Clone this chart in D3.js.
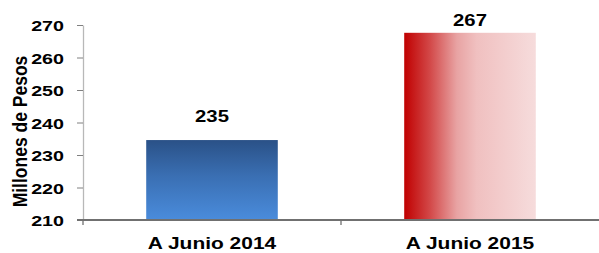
<!DOCTYPE html>
<html lang='es'>
  <head>
    <meta charset='utf-8'>
    <script src='https://cdnjs.cloudflare.com/ajax/libs/d3/7.8.5/d3.min.js'></script>
    <style>
      body { margin: 0; background: #fff; }
      text { font-family: 'Liberation Sans', Arial, sans-serif; font-weight: bold; fill: #000; }
    </style>
  </head>
  <body>
    <script>
      // data
      var categories = ['A Junio 2014', 'A Junio 2015'];
      var values = [234.6, 267.6];
      var valueLabels = ['235', '267'];
      var yTicks = [210, 220, 230, 240, 250, 260, 270];

      var width = 599, height = 253;
      var plotLeft = 83, plotRight = 599, plotTop = 25, plotBottom = 220;
      var stretch = 1.27;   // the original text looks widened
      var labelGap = [18, 7];

      var svg = d3.select('body').append('svg')
                  .attr('width', width)
                  .attr('height', height);

      var defs = svg.append('defs');

      // blue bar: vertical gradient
      var gBlue = defs.append('linearGradient')
                      .attr('id', 'gBlue')
                      .attr('x1', 0).attr('y1', 0).attr('x2', 0).attr('y2', 1);
      gBlue.append('stop').attr('offset', '0%').attr('stop-color', '#2a5187');
      gBlue.append('stop').attr('offset', '45%').attr('stop-color', '#3a6fb3');
      gBlue.append('stop').attr('offset', '100%').attr('stop-color', '#4a8cdc');

      // red bar: horizontal gradient
      var gRed = defs.append('linearGradient')
                     .attr('id', 'gRed')
                     .attr('x1', 0).attr('y1', 0).attr('x2', 1).attr('y2', 0);
      gRed.append('stop').attr('offset', '0%').attr('stop-color', '#c00000');
      gRed.append('stop').attr('offset', '20%').attr('stop-color', '#d34a4a');
      gRed.append('stop').attr('offset', '40%').attr('stop-color', '#e8a3a3');
      gRed.append('stop').attr('offset', '55%').attr('stop-color', '#f0c0c0');
      gRed.append('stop').attr('offset', '100%').attr('stop-color', '#f6dcdc');

      var fills = ['url(#gBlue)', 'url(#gRed)'];

      // scales
      var y = d3.scaleLinear().domain([210, 270]).range([plotBottom, plotTop]);
      var x = d3.scaleBand().domain(categories).range([plotLeft, plotRight])
                .paddingInner(0.49).paddingOuter(0.245);

      // y axis
      var yAxis = svg.append('g')
                     .attr('transform', 'translate(' + plotLeft + ',0)')
                     .call(d3.axisLeft(y).tickValues(yTicks).tickSize(6).tickSizeOuter(0));
      yAxis.select('.domain').attr('stroke', '#b8b8b8').attr('stroke-width', 1.3);
      yAxis.selectAll('.tick line').attr('stroke', '#808080');
      yAxis.selectAll('.tick text')
           .attr('x', 0)
           .attr('dy', '0.36em')
           .attr('transform', 'translate(-19,0) scale(' + stretch + ',1)')
           .style('font-size', '15.5px');

      // bars
      svg.selectAll('rect.bar').data(values).enter().append('rect')
         .attr('class', 'bar')
         .attr('x', function(d, i){ return x(categories[i]); })
         .attr('y', function(d){ return y(d); })
         .attr('width', x.bandwidth())
         .attr('height', function(d){ return plotBottom - y(d); })
         .attr('fill', function(d, i){ return fills[i]; });

      // value labels
      svg.selectAll('text.val').data(values).enter().append('text')
         .attr('class', 'val')
         .attr('transform', function(d, i){
           var cx = x(categories[i]) + x.bandwidth() / 2;
           return 'translate(' + cx + ',' + (y(d) - labelGap[i]) + ') scale(' + stretch + ',1)';
         })
         .attr('text-anchor', 'middle')
         .style('font-size', '16px')
         .text(function(d, i){ return valueLabels[i]; });

      // x axis
      var xAxis = svg.append('g')
                     .attr('transform', 'translate(0,' + plotBottom + ')')
                     .call(d3.axisBottom(x).tickSize(0).tickSizeOuter(0));
      xAxis.select('.domain').attr('stroke', '#707070').attr('stroke-width', 2)
           .attr('d', 'M' + (plotLeft - 6) + ',0H' + plotRight);
      xAxis.selectAll('.tick text')
           .attr('y', 0)
           .attr('dy', 0)
           .attr('transform', 'translate(0,29) scale(' + stretch + ',1)')
           .style('font-size', '16.5px');

      // small tick marks at category boundaries
      var bounds = [plotLeft, (x(categories[0]) + x.bandwidth() + x(categories[1])) / 2];
      svg.selectAll('line.bt').data(bounds).enter().append('line')
         .attr('class', 'bt')
         .attr('x1', function(d){ return d; }).attr('x2', function(d){ return d; })
         .attr('y1', plotBottom).attr('y2', plotBottom + 5)
         .attr('stroke', '#707070').attr('stroke-width', 1.3);

      // y title
      svg.append('text')
         .attr('transform', 'translate(26.5,' + ((plotTop + plotBottom) / 2 + 9) + ') scale(1.15,1) rotate(-90)')
         .attr('text-anchor', 'middle')
         .style('font-size', '17.5px')
         .text('Millones de Pesos');
    </script>
  </body>
</html>
